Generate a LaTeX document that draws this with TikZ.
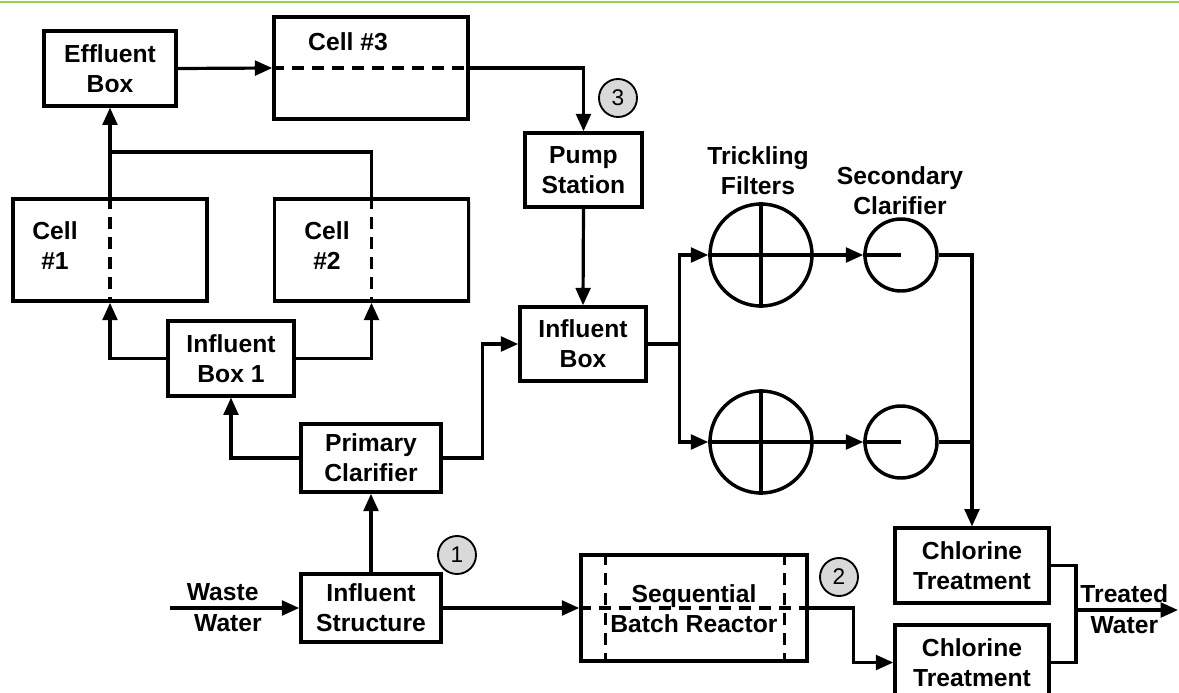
\documentclass[tikz,border=0pt]{standalone}
\usepackage{fontspec}
\setmainfont{Liberation Sans}
\usepackage{xcolor}
\definecolor{cLine}{HTML}{000000}
\definecolor{cMark}{HTML}{D9D9D9}
\definecolor{cTop}{HTML}{9BD04F}
\usepackage{tikz}
\usetikzlibrary{arrows.meta,calc,shadows}
\tikzset{
  node-box/.style={draw=cLine,line width=2.6pt,align=center,fill=white,
    font=\fontsize{18.5}{22.5}\selectfont\bfseries,inner sep=0pt,
    drop shadow={shadow xshift=1.5pt,shadow yshift=-1.5pt,opacity=.25}},
  node-filter/.style={draw=cLine,line width=2.6pt,circle,minimum size=76.5pt,
    inner sep=0pt,fill=white},
  node-clar/.style={draw=cLine,line width=2.6pt,circle,minimum size=54pt,
    inner sep=0pt,fill=white},
  node-mark/.style={draw=cLine,line width=1.4pt,circle,fill=cMark,
    minimum size=28.5pt,inner sep=0pt,font=\fontsize{17}{20}\selectfont},
  node-text/.style={align=center,inner sep=0pt,
    font=\fontsize{18.5}{22.5}\selectfont\bfseries},
  arrow/.style={-{Triangle[length=13pt,width=11pt]},line width=2.4pt,draw=cLine},
  pipe/.style={line width=2.4pt,draw=cLine},
  pipe-dash/.style={line width=2.4pt,draw=cLine,dash pattern=on 9pt off 6pt},
}

\begin{document}
\begin{tikzpicture}[x=0.75pt,y=-0.75pt]
  \useasboundingbox (0,0) rectangle (1179,693);
  \draw[cTop,line width=1.6pt] (0,2) -- (1179,2);

  % lagoon cells
  \node[node-box,minimum width=145.5pt,minimum height=76.5pt] (cell3) at (371,68) {};
  \node[node-box,minimum width=145.5pt,minimum height=76.5pt] (cell1) at (110,250) {};
  \node[node-box,minimum width=145.5pt,minimum height=76.5pt] (cell2) at (371.5,250) {};
  \node[node-text] at (348,42) {Cell \#3};
  \node[node-text] at (55,246) {Cell\\\#1};
  \node[node-text] at (327,246) {Cell\\\#2};
  \draw[pipe-dash] (cell3.west) -- (cell3.east);
  \draw[pipe-dash] (cell1.north) -- (cell1.south);
  \draw[pipe-dash] (cell2.north) -- (cell2.south);

  \node[node-box,minimum width=99pt,minimum height=56pt] (effl) at (110,68.5) {Effluent\\Box};
  \node[node-box,minimum width=94.5pt,minimum height=56pt] (inbox1) at (231,358.5) {Influent\\Box 1};
  \node[node-box,minimum width=105pt,minimum height=51pt] (prim) at (371,458) {Primary\\Clarifier};
  \node[node-box,minimum width=105pt,minimum height=51pt] (instr) at (371,608) {Influent\\Structure};
  \node[node-box,minimum width=88pt,minimum height=55.5pt] (pump) at (583.5,170) {Pump\\Station};
  \node[node-box,minimum width=94.5pt,minimum height=55.5pt] (inbox) at (583,344) {Influent\\Box};

  % sequential batch reactor
  \node[node-box,minimum width=169.5pt,minimum height=79.5pt] (sbr) at (694,608) {};
  \draw[pipe-dash] (sbr.west) -- (sbr.east);
  \draw[pipe-dash] ($(sbr.north west)+(26,0)$) -- ($(sbr.south west)+(26,0)$);
  \draw[pipe-dash] ($(sbr.north east)+(-24,0)$) -- ($(sbr.south east)+(-24,0)$);
  \node[node-text] at (694,609) {Sequential\\Batch Reactor};

  \node[node-box,minimum width=115.5pt,minimum height=56pt] (ct1) at (972,565.5) {Chlorine\\Treatment};
  \node[node-box,minimum width=115.5pt,minimum height=56pt] (ct2) at (972,662.5) {Chlorine\\Treatment};

  % filters and clarifiers
  \node[node-filter] (tf1) at (761,255) {};
  \node[node-filter] (tf2) at (761,442) {};
  \node[node-clar] (sc1) at (901,255) {};
  \node[node-clar] (sc2) at (901,442) {};
  \foreach \f in {tf1,tf2} {
    \draw[pipe] (\f.west) -- (\f.east);
    \draw[pipe] (\f.north) -- (\f.south);
  }
  \foreach \c in {sc1,sc2}
    \draw[pipe] (\c.west) -- (\c.center);
  \node[node-text] at (758,171) {Trickling\\Filters};
  \node[node-text] at (900,191) {Secondary\\Clarifier};

  % markers
  \node[node-mark] (m1) at (457,555) {1};
  \node[node-mark] (m2) at (839,577) {2};
  \node[node-mark] (m3) at (618,98) {3};

  \coordinate (src) at (170,608);
  \coordinate (jn) at (110,152);
  \coordinate (jout) at (1076,610);
  \coordinate (out) at (1178,610);

  \draw[arrow] (src) -- node[node-text,above=4pt,xshift=-9pt]{Waste}
    node[node-text,below=4pt,xshift=-5pt]{Water} (instr.west);
  \draw[arrow] (instr.north) -- (prim.south);
  \draw[arrow] (instr.east) -- (sbr.west);
  \draw[arrow] (prim.west) -| (inbox1.south);
  \draw[arrow] (prim.east) -- ++(40,0) |- (inbox.west);
  \draw[arrow] (inbox1.west) -| (cell1.south);
  \draw[arrow] (inbox1.east) -| (cell2.south);
  \draw[arrow] (cell1.north) -- (effl.south);
  \draw[pipe] (cell2.north) |- (jn);
  \draw[arrow] (effl.east) -- (cell3.west);
  \draw[arrow] (cell3.east) -| (pump.north);
  \draw[arrow] (pump.south) -- (inbox.north);
  \draw[arrow] (inbox.east) -- ++(32,0) |- (tf1.west);
  \draw[arrow] (inbox.east) -- ++(32,0) |- (tf2.west);
  \draw[arrow] (tf1.east) -- (sc1.west);
  \draw[arrow] (tf2.east) -- (sc2.west);
  \draw[arrow] (sc1.east) -| (ct1.north);
  \draw[pipe] (sc2.east) -| ($(ct1.north)+(0,-10)$);
  \draw[arrow] (sbr.east) -- ++(45,0) |- (ct2.west);
  \draw[pipe] (ct1.east) -| (jout) |- (ct2.east);
  \draw[arrow] (jout) -- node[node-text,above=4pt,xshift=-2pt]{Treated}
    node[node-text,below=4pt,xshift=-2pt]{Water} (out);
\end{tikzpicture}
\end{document}
